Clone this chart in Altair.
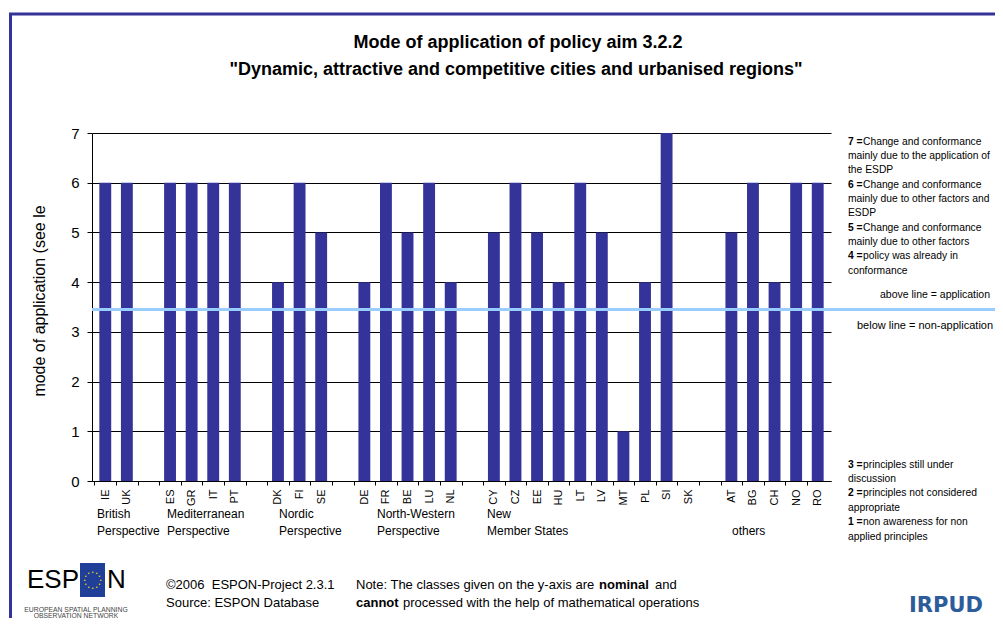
import math
import altair as alt
import pandas as pd

# ---------------- data ----------------
countries = ["IE", "UK", "ES", "GR", "IT", "PT", "DK", "FI", "SE", "DE", "FR", "BE", "LU", "NL",
             "CY", "CZ", "EE", "HU", "LT", "LV", "MT", "PL", "SI", "SK", "AT", "BG", "CH", "NO", "RO"]
values = [6, 6, 6, 6, 6, 6, 4, 6, 5, 4, 6, 5, 6, 4,
          5, 6, 5, 4, 6, 5, 1, 4, 7, 0, 5, 6, 4, 6, 6]
# category order on the axis, with empty separator slots between groups
slots = ["IE", "UK", "_g1", "ES", "GR", "IT", "PT", "_g2", "DK", "FI", "SE", "_g3",
         "DE", "FR", "BE", "LU", "NL", "_g4", "CY", "CZ", "EE", "HU", "LT", "LV", "MT",
         "PL", "SI", "SK", "_g5", "AT", "BG", "CH", "NO", "RO"]
y_ticks = [0, 1, 2, 3, 4, 5, 6, 7]
threshold = [3.45]

df = pd.DataFrame({"slot": countries, "value": values})

BAR = "#333399"
FONT = "Liberation Sans"
X0, Y0 = 92, 133  # page position of plot origin
W, H = 739, 348
P_IN, P_OUT = 0.45, 0.34
STEP = W / (len(slots) - P_IN + 2 * P_OUT)

dummy = pd.DataFrame({"a": [0]})


def txt(s, px, py, size=10, bold=False, align="left", angle=0, color="black",
        font=FONT, baseline="middle"):
    return alt.Chart(dummy).mark_text(
        text=s, align=align, baseline=baseline, fontSize=size,
        fontWeight="bold" if bold else "normal", font=font, angle=angle, color=color
    ).encode(x=alt.value(px - X0), y=alt.value(py - Y0))


def rule(px1, py1, px2, py2, color, width):
    return alt.Chart(dummy).mark_rule(color=color, strokeWidth=width).encode(
        x=alt.value(px1 - X0), x2=alt.value(px2 - X0),
        y=alt.value(py1 - Y0), y2=alt.value(py2 - Y0))


bars = alt.Chart(df).mark_bar(color=BAR).encode(
    x=alt.X("slot:N", sort=slots,
            scale=alt.Scale(domain=slots, paddingInner=P_IN, paddingOuter=P_OUT),
            axis=alt.Axis(title=None, labelAngle=270, labelAlign="right", labelBaseline="middle",
                          labelExpr="indexof(datum.value, '_') == 0 ? '' : datum.value",
                          tickOffset=-STEP / 2, labelOffset=STEP / 2,
                          tickSize=4, tickColor="black", domainColor="black",
                          labelFontSize=11, labelFont=FONT, labelColor="black", labelPadding=4,
                          grid=False)),
    y=alt.Y("value:Q", scale=alt.Scale(domain=[0, 7], nice=False, zero=True),
            axis=alt.Axis(values=y_ticks, title=None, grid=True, gridColor="black",
                          gridOpacity=1, gridWidth=1, tickSize=5, tickColor="black",
                          domainColor="black", labelFontSize=15, labelFont=FONT,
                          labelColor="black", labelPadding=8)),
)

thr = alt.Chart(pd.DataFrame({"t": threshold})).mark_rule(color="#99ccff", strokeWidth=3).encode(
    y="t:Q", x=alt.value(0), x2=alt.value(1003 - X0))

layers = [bars, thr]

# frame
layers.append(rule(9, 14, 1010, 14, BAR, 3))
layers.append(rule(10.5, 13, 10.5, 640, BAR, 3))

# titles
layers.append(txt("Mode of application of policy aim 3.2.2", 518, 43, size=18, bold=True, align="center"))
layers.append(txt('"Dynamic, attractive and competitive cities and urbanised regions"', 516, 70,
                  size=18, bold=True, align="center"))

# y axis title
layers.append(txt("mode of application (see le", 40, 301, size=16, angle=270, align="center"))

# group labels
groups = [("British", "Perspective", 97), ("Mediterranean", "Perspective", 167),
          ("Nordic", "Perspective", 279), ("North-Western", "Perspective", 377),
          ("New", "Member States", 487)]
for a, b, px in groups:
    layers.append(txt(a, px, 514, size=12))
    layers.append(txt(b, px, 531, size=12))
layers.append(txt("others", 732, 531, size=12))

# right legend
legend_lines = [("7 =", "Change and conformance", 142), (None, "mainly due to the application of", 156),
                (None, "the ESDP", 170), ("6 =", "Change and conformance", 185),
                (None, "mainly due to other factors and", 199), (None, "ESDP", 213),
                ("5 =", "Change and conformance", 228), (None, "mainly due to other factors", 242),
                ("4 =", "policy was already in", 256), (None, "conformance", 271),
                ("3 =", "principles still under", 465), (None, "discussion", 479),
                ("2 =", "principles not considered", 493), (None, "appropriate", 508),
                ("1 =", "non awareness for non", 522), (None, "applied principles", 537)]
for num, rest, py in legend_lines:
    if num:
        layers.append(txt(num, 848, py, size=10.3, bold=True))
        layers.append(txt(rest, 863, py, size=10.3))
    else:
        layers.append(txt(rest, 848, py, size=10.3))

layers.append(txt("above line = application", 880, 295, size=10.5))
layers.append(txt("below line = non-application", 857, 326, size=11))

# footer
layers.append(txt("\u00a92006\u00a0\u00a0ESPON-Project 2.3.1", 166, 585, size=13))
layers.append(txt("Source: ESPON Database", 166, 603, size=13))
layers.append(txt("Note: The classes given on the y-axis are", 356, 585, size=13))
layers.append(txt("nominal", 599, 585, size=13, bold=True))
layers.append(txt("and", 655, 585, size=13))
layers.append(txt("cannot", 356, 603, size=13, bold=True))
layers.append(txt("processed with the help of mathematical operations", 403, 603, size=13))

# ESPON logo
layers.append(txt("ESP", 27, 580, size=26))
layers.append(txt("N", 107, 580, size=26))
layers.append(alt.Chart(dummy).mark_rect(color="#1f3f99").encode(
    x=alt.value(80 - X0), x2=alt.value(105 - X0), y=alt.value(563 - Y0), y2=alt.value(597 - Y0)))
for k in range(12):
    ang = 2 * math.pi * k / 12
    layers.append(txt("\u2022", 92.5 + 8 * math.cos(ang), 580 + 8 * math.sin(ang), size=5,
                      align="center", color="#ffdd00"))
layers.append(txt("EUROPEAN SPATIAL PLANNING", 76, 610, size=6.8, align="center", color="#444444"))
layers.append(txt("OBSERVATION NETWORK", 76, 616, size=6.8, align="center", color="#444444"))

# IRPUD logo
layers.append(txt("IRPUD", 909, 606, size=21, bold=True, font="DejaVu Sans", color="#2d5c9a"))

chart = alt.layer(*layers).properties(
    width=W, height=H,
    autosize=alt.AutoSizeParams(type="none"),
    padding={"left": X0 - 8, "top": Y0 - 8, "right": 1003 - 16 - (X0 - 8) - W,
             "bottom": 630 - 16 - (Y0 - 8) - H - 4},
).configure(background="white").configure_view(stroke=None)

chart.save("out.html", embed_options={"renderer": "svg", "actions": False})
